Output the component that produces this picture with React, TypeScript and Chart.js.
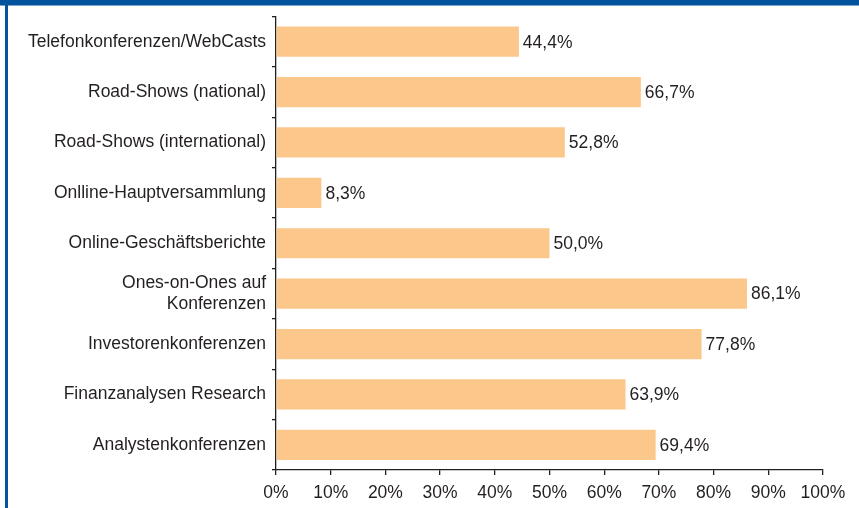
import React, { useEffect, useRef } from "react";
import { Chart, registerables } from "chart.js";

Chart.register(...registerables);

const categories: (string | string[])[] = [
  "Telefonkonferenzen/WebCasts",
  "Road-Shows (national)",
  "Road-Shows (international)",
  "Onlline-Hauptversammlung",
  "Online-Geschäftsberichte",
  ["Ones-on-Ones auf", "Konferenzen"],
  "Investorenkonferenzen",
  "Finanzanalysen Research",
  "Analystenkonferenzen",
];

const values: number[] = [44.4, 66.7, 52.8, 8.3, 50.0, 86.1, 77.8, 63.9, 69.4];

const xTicks: number[] = [0, 10, 20, 30, 40, 50, 60, 70, 80, 90, 100];

const FONT = "'Liberation Sans', Arial, Helvetica, sans-serif";
const TEXT = "#231f20";
const FS = 17.5;

const fmt = (v: number) => v.toFixed(1).replace(".", ",") + "%";

const valueLabels = {
  id: "valueLabels",
  afterDatasetsDraw(chart: any) {
    const ctx = chart.ctx;
    const meta = chart.getDatasetMeta(0);
    ctx.save();
    ctx.font = `${FS}px ${FONT}`;
    ctx.fillStyle = TEXT;
    ctx.textAlign = "left";
    ctx.textBaseline = "middle";
    meta.data.forEach((bar: any, i: number) => {
      ctx.fillText(fmt(values[i]), bar.x + 4, bar.y + 1);
    });
    ctx.restore();
  },
};

export default function App() {
  const ref = useRef<HTMLCanvasElement | null>(null);

  useEffect(() => {
    if (!ref.current) return;
    const chart = new Chart(ref.current, {
      type: "bar",
      data: {
        labels: categories,
        datasets: [
          {
            data: values,
            backgroundColor: "#fbc78a",
            borderWidth: 0,
            categoryPercentage: 1,
            barPercentage: 0.6,
          },
        ],
      },
      options: {
        indexAxis: "y",
        animation: false,
        responsive: false,
        maintainAspectRatio: false,
        layout: { padding: { top: 16, right: 36, left: 0, bottom: 0 } },
        plugins: {
          legend: { display: false },
          tooltip: { enabled: false },
        },
        scales: {
          x: {
            min: 0,
            max: 100,
            afterBuildTicks: (scale: any) => {
              scale.ticks = xTicks.map((v) => ({ value: v }));
            },
            afterFit: (scale: any) => {
              scale.height = 508 - 470;
            },
            border: { display: true, color: "#231f20", width: 1.3 },
            grid: {
              display: true,
              drawOnChartArea: false,
              drawTicks: true,
              tickLength: 5,
              color: "#231f20",
              lineWidth: 1.3,
            },
            ticks: {
              color: TEXT,
              font: { family: FONT, size: FS },
              padding: 8,
              maxRotation: 0,
              callback: (v: any) => v + "%",
            },
          },
          y: {
            afterFit: (scale: any) => {
              scale.width = 276;
            },
            border: { display: true, color: "#231f20", width: 1.3 },
            grid: {
              display: true,
              offset: true,
              drawOnChartArea: false,
              drawTicks: true,
              tickLength: 4,
              color: "#231f20",
              lineWidth: 1.3,
            },
            ticks: {
              color: TEXT,
              font: { family: FONT, size: FS, lineHeight: 1.2 },
              padding: 6,
              autoSkip: false,
            },
          },
        },
      },
      plugins: [valueLabels],
    });
    return () => chart.destroy();
  }, []);

  return (
    <div
      style={{
        position: "fixed",
        left: 0,
        top: 0,
        width: 859,
        height: 508,
        background: "#ffffff",
        overflow: "hidden",
      }}
    >
      <canvas
        ref={ref}
        width={859}
        height={508}
        style={{ position: "absolute", left: 0, top: 0, width: 859, height: 508 }}
      />
      <div
        style={{
          position: "absolute",
          left: 0,
          top: 0,
          width: 859,
          height: 5,
          background: "#00529c",
          borderBottom: "1px solid #7fa6cf",
        }}
      />
      <div
        style={{
          position: "absolute",
          left: 5,
          top: 0,
          width: 3,
          height: 508,
          background: "#0055a0",
        }}
      />
    </div>
  );
}
